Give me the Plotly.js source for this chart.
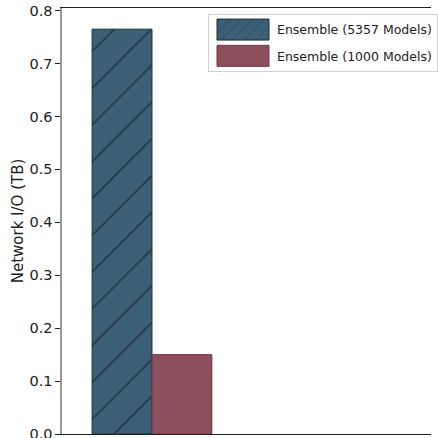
<!DOCTYPE html>
<html>
<head>
<meta charset="utf-8">
<script src="https://cdn.plot.ly/plotly-3.0.1.min.js"></script>
<style>html,body{margin:0;padding:0;overflow:hidden;background:#fff}</style>
</head>
<body>
<div id="chart" style="width:438px;height:438px"></div>
<script>
const seriesNames = ["Ensemble (5357 Models)", "Ensemble (1000 Models)"];
const groups = [0];
const valuesEnsemble5357 = [0.765];
const valuesEnsemble1000 = [0.150];

const font = "DejaVu Sans, Liberation Sans, sans-serif";

const traces = [
  {
    type: "bar",
    name: seriesNames[0],
    legendgroup: "a",
    x: groups,
    y: valuesEnsemble5357,
    width: 0.4,
    offset: -0.4,
    marker: {
      color: "#3b5f74",
      line: {color: "#1c2f3a", width: 1},
      pattern: {shape: "/", size: 26, solidity: 0.045, fgcolor: "#15252e", fgopacity: 1, bgcolor: "#3b5f74", fillmode: "replace"}
    }
  },
  {
    type: "bar",
    name: seriesNames[1],
    legendgroup: "b",
    x: groups,
    y: valuesEnsemble1000,
    width: 0.4,
    offset: 0,
    marker: {
      color: "#8d4f5c",
      line: {color: "#6e3843", width: 1}
    }
  }
];

const layout = {
  width: 438,
  height: 438,
  margin: {l: 62, r: 0, t: 8, b: 4},
  paper_bgcolor: "#fff",
  plot_bgcolor: "#fff",
  barmode: "overlay",
  font: {family: font, color: "#222"},
  showlegend: true,
  legend: {
    x: 0.396, y: 0.986, xanchor: "left", yanchor: "top",
    bgcolor: "rgba(255,255,255,0.8)",
    bordercolor: "#d0d0d0", borderwidth: 1,
    font: {family: font, size: 12.5, color: "#222"},
    itemwidth: 58,
    traceorder: "grouped",
    tracegroupgap: 7
  },
  xaxis: {
    range: [-0.601, 1.864],
    showgrid: false, zeroline: false,
    showticklabels: false, ticks: "",
    showline: true, mirror: true, linecolor: "#222", linewidth: 1.2
  },
  yaxis: {
    range: [0, 0.805],
    dtick: 0.1, tick0: 0, tickformat: ".1f",
    showgrid: false, zeroline: false,
    ticks: "outside", ticklen: 5, tickcolor: "#222", tickwidth: 1,
    ticklabeloverflow: "allow",
    tickfont: {family: font, size: 14.5, color: "#222"},
    showline: true, linecolor: "#9a9a9a", linewidth: 1.6,
    title: {text: "Network I/O (TB)", font: {family: font, size: 15, color: "#222"}, standoff: 2}
  }
};

Plotly.newPlot("chart", traces, layout, {staticPlot: true, displayModeBar: false}).then(function (gd) {
  // enlarge the legend swatches to matplotlib-like patches
  gd.querySelectorAll(".legend .legendpoints path").forEach(function (p) {
    p.setAttribute("d", "M26,10.5H-26V-10.5H26Z");
  });
});
</script>
</body>
</html>
